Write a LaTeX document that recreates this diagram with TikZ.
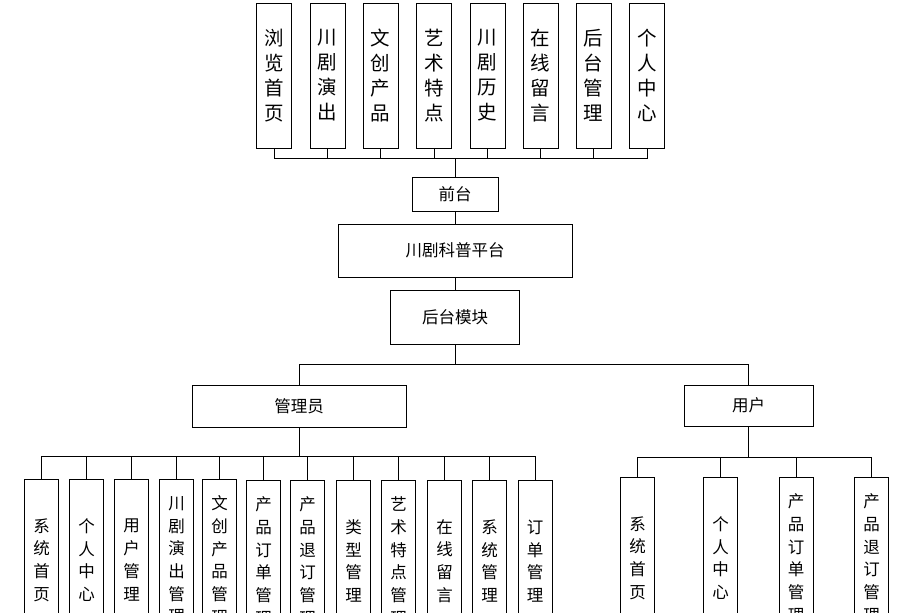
\documentclass[tikz,border=0pt]{standalone}
\usepackage{fontspec}
\newfontfamily\cjk{Noto Sans CJK SC}
\usetikzlibrary{positioning}

\begin{document}
\begin{tikzpicture}[x=1pt,y=-1pt,
    vbox/.style={rectangle,draw,line width=1pt,minimum width=35pt,minimum height=145pt,inner sep=0pt,align=center,font=\cjk\fontsize{19.5}{25}\selectfont},
    sbox/.style={rectangle,draw,line width=1pt,minimum width=34pt,minimum height=162pt,inner sep=0pt,align=center,font=\cjk\fontsize{16.5}{22.7}\selectfont},
    hbox/.style={rectangle,draw,line width=1pt,inner sep=0pt,font=\cjk\fontsize{16.5}{18}\selectfont},
    link/.style={line width=1pt}
]
    \useasboundingbox (0,0) rectangle (897,613);
    \clip (0,0) rectangle (897,613);

    % Front end modules
    \node[vbox] (browse) at (274,75.5) {浏\\览\\首\\页};
    \node[vbox] (show) at (327.5,75.5) {川\\剧\\演\\出};
    \node[vbox] (craft) at (380.5,75.5) {文\\创\\产\\品};
    \node[vbox] (art) at (434,75.5) {艺\\术\\特\\点};
    \node[vbox] (history) at (487.5,75.5) {川\\剧\\历\\史};
    \node[vbox] (message) at (540.5,75.5) {在\\线\\留\\言};
    \node[vbox] (backend) at (593.5,75.5) {后\\台\\管\\理};
    \node[vbox] (center) at (647,75.5) {个\\人\\中\\心};

    % Front end
    \node[hbox,minimum width=86pt,minimum height=34pt] (front) at (455,194) {前台};
    \foreach \m in {browse,show,craft,art,history,message,backend,center}
        \draw[link] (\m.south) -- ++(0,10) -| (front.north);

    % Platform
    \node[hbox,minimum width=234pt,minimum height=53pt] (platform) at (455,250.5) {川剧科普平台};
    \draw[link] (front) -- (platform);

    % Back end
    \node[hbox,minimum width=129pt,minimum height=54pt] (back) at (455,317) {后台模块};
    \draw[link] (platform) -- (back);

    % Roles
    \node[hbox,minimum width=214pt,minimum height=42pt] (admin) at (299,406) {管理员};
    \node[hbox,minimum width=129pt,minimum height=41pt] (user) at (748.5,405.5) {用户};
    \draw[link] (back.south) -- ++(0,20) -| (admin.north);
    \draw[link] (back.south) -- ++(0,20) -| (user.north);

    % Admin modules
    \node[sbox] (a1) at (41.5,560) {系\\统\\首\\页};
    \node[sbox] (a2) at (86.5,560) {个\\人\\中\\心};
    \node[sbox] (a3) at (131.5,560) {用\\户\\管\\理};
    \node[sbox] (a4) at (176.5,560) {川\\剧\\演\\出\\管\\理};
    \node[sbox] (a5) at (219.5,560) {文\\创\\产\\品\\管\\理};
    \node[sbox] (a6) at (263.5,561) {产\\品\\订\\单\\管\\理};
    \node[sbox] (a7) at (307.5,561) {产\\品\\退\\订\\管\\理};
    \node[sbox] (a8) at (353.5,561) {类\\型\\管\\理};
    \node[sbox] (a9) at (398.5,561) {艺\\术\\特\\点\\管\\理};
    \node[sbox] (a10) at (444.5,561) {在\\线\\留\\言};
    \node[sbox] (a11) at (489.5,561) {系\\统\\管\\理};
    \node[sbox] (a12) at (535,561) {订\\单\\管\\理};
    \foreach \m in {a1,a2,a3,a4,a5,a6,a7,a8,a9,a10,a11,a12}
        \draw[link] (admin.south) -- ++(0,29) -| (\m.north);

    % User modules
    \node[sbox] (u1) at (637.5,558) {系\\统\\首\\页};
    \node[sbox] (u2) at (720.5,558) {个\\人\\中\\心};
    \node[sbox] (u3) at (796,558) {产\\品\\订\\单\\管\\理};
    \node[sbox] (u4) at (871.5,558) {产\\品\\退\\订\\管\\理};
    \foreach \m in {u1,u2,u3,u4}
        \draw[link] (user.south) -- ++(0,31) -| (\m.north);
\end{tikzpicture}
\end{document}
